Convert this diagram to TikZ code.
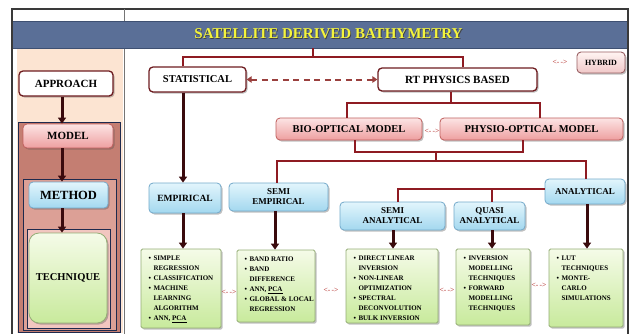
\documentclass[tikz,border=0pt]{standalone}
\usepackage{fontspec}
\setmainfont{Liberation Serif}
\usetikzlibrary{arrows.meta,shadows}

\definecolor{framegray}{HTML}{3A3A3A}
\definecolor{titleblue}{HTML}{5A6F97}
\definecolor{titleedge}{HTML}{3E5072}
\definecolor{titleyellow}{HTML}{F4F43C}
\definecolor{beige}{HTML}{FCE4D2}
\definecolor{navy}{HTML}{1E2A4E}
\definecolor{brownfill}{HTML}{C47E72}
\definecolor{midfill}{HTML}{DCA096}
\definecolor{lightfill}{HTML}{F2C6C0}
\definecolor{maroon}{HTML}{8E1B22}
\definecolor{darkarrow}{HTML}{3A0A0D}
\definecolor{boxedge}{HTML}{6E1C20}
\definecolor{pinktop}{HTML}{FCE4E4}
\definecolor{pinkbot}{HTML}{EE9FA0}
\definecolor{pinkedge}{HTML}{C0605E}
\definecolor{bluetop}{HTML}{E2F5FC}
\definecolor{bluebot}{HTML}{A3D8EF}
\definecolor{blueedge}{HTML}{74AACB}
\definecolor{greentop}{HTML}{F5FBE8}
\definecolor{greenbot}{HTML}{C8EA9C}
\definecolor{greenedge}{HTML}{94AD76}
\definecolor{hybridtop}{HTML}{FFF4F2}
\definecolor{hybridbot}{HTML}{F0C8C8}
\definecolor{arrowred}{HTML}{C0504D}

% bullet list helpers for the technique boxes
\newcommand\bul{\makebox[5pt][l]{\textbullet}}
\newcommand\ind{\hspace*{5pt}}
\newcommand\listtext[3]{\parbox[c][#2][t]{#1}{\raggedright\hyphenpenalty=10000\exhyphenpenalty=10000
  \fontsize{7}{10.1}\selectfont\vspace*{6.5pt}#3}}
\newcommand\twoway{<\mbox{-}\,\mbox{-}>}

\begin{document}
\begin{tikzpicture}[x=1pt,y=-1pt,
  box/.style={rounded corners=4pt, inner sep=0pt, align=center,
    font=\bfseries\fontsize{10.5}{11}\selectfont},
  shadowed/.style={drop shadow={shadow xshift=1.5pt, shadow yshift=-1.5pt, opacity=0.35, fill=black!70}},
  whitebox/.style={box, shadowed, draw=boxedge, line width=1.3pt, fill=white},
  pinkbox/.style={box, shadowed, draw=pinkedge, line width=0.8pt, top color=pinktop, bottom color=pinkbot},
  bluebox/.style={box, shadowed, draw=blueedge, line width=0.8pt, top color=bluetop, bottom color=bluebot,
    font=\bfseries\fontsize{9}{10}\selectfont},
  greenbox/.style={box, shadowed, draw=greenedge, line width=0.8pt, top color=greentop, bottom color=greenbot},
  listbox/.style={greenbox, rounded corners=1.5pt, inner xsep=7.5pt, inner ysep=0pt, align=left},
  hybridbox/.style={box, shadowed, draw=boxedge!70, line width=0.9pt, top color=hybridtop, bottom color=hybridbot,
    font=\bfseries\fontsize{8}{9}\selectfont},
  twowaytext/.style={inner sep=0pt, text=arrowred, font=\bfseries\fontsize{7.5}{8}\selectfont},
  conn/.style={draw=maroon, line width=2.2pt, line join=miter},
  darrow/.style={draw=darkarrow, line width=3pt, -{Triangle[width=8pt,length=6pt]}},
  dasharrow/.style={draw=arrowred!80!black, line width=2pt, dash pattern=on 6pt off 4.5pt,
    {Triangle[width=6.5pt,length=5pt]}-{Triangle[width=6.5pt,length=5pt]}}
]
\useasboundingbox (0,0) rectangle (631,333);

% outer frame and the title band
\fill[white] (0,0) rectangle (631,333);
\draw[framegray, line width=1.4pt] (12,336) -- (12,9) -- (628,9) -- (628,336);
\fill[beige] (17,48) rectangle (123,333);
\draw[framegray!70, line width=0.6pt] (124,9) -- (124,336);
\fill[titleblue] (13,21) rectangle (627,48);
\draw[titleedge, line width=0.6pt] (13,21) -- (627,21) (13,48) -- (627,48);
\node[inner sep=0pt, font=\bfseries\fontsize{15}{16}\selectfont] (title) at (328.5,34)
  {\makebox[0pt][l]{\raisebox{-0.8pt}{\hspace{0.8pt}\color{black!75}SATELLITE DERIVED BATHYMETRY}}\color{titleyellow}SATELLITE DERIVED BATHYMETRY};
\coordinate (titlefoot) at (313,48);

% nested hierarchy panel on the left
\filldraw[fill=brownfill, draw=navy, line width=1pt] (18,122) rectangle (120,332.5);
\filldraw[fill=midfill, draw=navy, line width=1pt] (23,179) rectangle (116,330.5);
\filldraw[fill=lightfill, draw=navy, line width=1pt] (27,229) rectangle (110,328);

\node[whitebox, minimum width=94pt, minimum height=25pt, font=\bfseries\fontsize{11}{12}\selectfont] (approach) at (66,83.5) {APPROACH};
\node[pinkbox, minimum width=90pt, minimum height=24pt, font=\bfseries\fontsize{11}{12}\selectfont] (model) at (68,136) {MODEL};
\node[bluebox, minimum width=79pt, minimum height=26pt, font=\bfseries\fontsize{12.5}{13}\selectfont] (method) at (68.5,195) {METHOD};
\node[greenbox, rounded corners=10pt, minimum width=78pt, minimum height=90pt, font=\bfseries\fontsize{10.5}{11}\selectfont] (technique) at (68,278) {TECHNIQUE};

\draw[darrow] (approach.south -| 62,0) -- (model.north -| 62,0);
\draw[darrow] (model.south -| 62,0) -- (method.north -| 62,0);
\draw[darrow] (method.south -| 62,0) -- (technique.north -| 62,0);

% approaches
\node[whitebox, minimum width=97pt, minimum height=25pt] (stat) at (197.5,79.5) {STATISTICAL};
\node[whitebox, minimum width=159pt, minimum height=23pt, font=\bfseries\fontsize{11}{12}\selectfont] (rt) at (457.5,79.5) {RT PHYSICS BASED};
\node[hybridbox, minimum width=48pt, minimum height=21pt] (hybrid) at (601,62.5) {HYBRID};
\node[twowaytext] (hybridkey) at (560,62) {\twoway};

% models
\node[pinkbox, minimum width=146pt, minimum height=22pt] (bio) at (349,129) {BIO-OPTICAL MODEL};
\node[pinkbox, minimum width=183pt, minimum height=22pt] (physio) at (531.5,129) {PHYSIO-OPTICAL MODEL};
\node[twowaytext] (biophysio) at (432,131) {\twoway};

% methods
\node[bluebox, minimum width=72pt, minimum height=30pt, font=\bfseries\fontsize{9.5}{10}\selectfont] (emp) at (185,198) {EMPIRICAL};
\node[bluebox, minimum width=99pt, minimum height=28pt] (semiemp) at (278.5,197) {SEMI\\EMPIRICAL};
\node[bluebox, minimum width=105pt, minimum height=28pt] (semian) at (392.5,216) {SEMI\\ANALYTICAL};
\node[bluebox, minimum width=71pt, minimum height=28pt] (quasi) at (489.5,216) {QUASI\\ANALYTICAL};
\node[bluebox, minimum width=80pt, minimum height=25pt] (anal) at (585,191.5) {ANALYTICAL};

% techniques
\node[listbox] (L1) at (181,288.5) {\listtext{65pt}{79pt}{%
  \bul SIMPLE\\ \ind REGRESSION\\ \bul CLASSIFICATION\\ \bul MACHINE\\ \ind LEARNING\\ \ind ALGORITHM\\ \bul \mbox{ANN, \underline{PCA}}}};
\node[listbox] (L2) at (276,286) {\listtext{63pt}{72pt}{%
  \bul \mbox{BAND RATIO}\\ \bul BAND\\ \ind DIFFERENCE\\ \bul \mbox{ANN, \underline{PCA}}\\ \bul \mbox{GLOBAL \& LOCAL}\\ \ind REGRESSION}};
\node[listbox] (L3) at (392,286) {\listtext{77pt}{74pt}{%
  \bul \mbox{DIRECT LINEAR}\\ \ind INVERSION\\ \bul NON-LINEAR\\ \ind OPTIMIZATION\\ \bul SPECTRAL\\ \ind DECONVOLUTION\\ \bul \mbox{BULK INVERSION}}};
\node[listbox] (L4) at (493,287) {\listtext{59pt}{76pt}{%
  \bul INVERSION\\ \ind MODELLING\\ \ind TECHNIQUES\\ \bul FORWARD\\ \ind MODELLING\\ \ind TECHNIQUES}};
\node[listbox] (L5) at (586,288) {\listtext{59pt}{78pt}{%
  \bul LUT\\ \ind TECHNIQUES\\ \bul MONTE-\\ \ind CARLO\\ \ind SIMULATIONS}};

\node[twowaytext] (k12) at (229,292) {\twoway};
\node[twowaytext] (k23) at (331,290) {\twoway};
\node[twowaytext] (k34) at (447,290) {\twoway};
\node[twowaytext] (k45) at (539,285) {\twoway};

% tree connectors
\draw[conn] (titlefoot) -- (313,57);
\draw[conn] (stat.north -| 183,0) -- (183,57) -- (463,57) -- (rt.north -| 463,0);
\draw[conn] (rt.south -| 451,0) -- (451,103);
\draw[conn] (bio.north -| 347,0) -- (347,103) -- (540,103) -- (physio.north -| 540,0);
\draw[conn] (bio.south -| 355,0) -- (355,152) -- (523,152) -- (physio.south -| 523,0);
\draw[conn] (436,152) -- (436,161);
\draw[conn] (semiemp.north -| 277,0) -- (277,161) -- (586,161) -- (anal.north -| 586,0);
\draw[conn] (anal.west |- 0,189) -- (398,189) -- (semian.north -| 398,0);
\draw[conn] (492,189) -- (quasi.north -| 492,0);

% statistical <-> physics link
\draw[dasharrow] (stat.east) -- (rt.west);

% arrows into methods and techniques
\draw[darrow] (stat.south -| 183,0) -- (emp.north -| 183,0);
\draw[darrow] (emp.south -| 183,0) -- (L1.north -| 183,0);
\draw[darrow] (semiemp.south -| 275,0) -- (L2.north -| 275,0);
\draw[darrow] (semian.south -| 393,0) -- (L3.north -| 393,0);
\draw[darrow] (quasi.south -| 492,0) -- (L4.north -| 492,0);
\draw[darrow] (anal.south -| 587,0) -- (L5.north -| 587,0);
\end{tikzpicture}
\end{document}
